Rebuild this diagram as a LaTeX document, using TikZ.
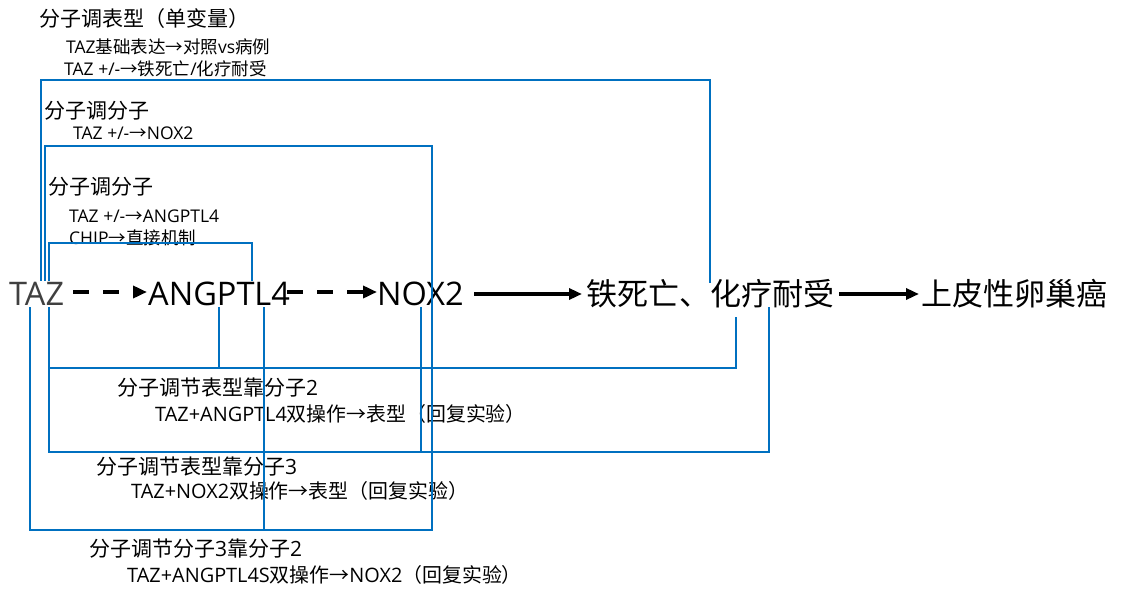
\documentclass[tikz,border=0pt]{standalone}
\usepackage{fontspec}
\setmainfont{Open Sans}
\newfontfamily\cjk{Noto Sans CJK SC}
\usetikzlibrary{arrows.meta}
\definecolor{conblue}{RGB}{0,112,192}
\definecolor{tazgray}{RGB}{64,64,64}
\begin{document}
\begin{tikzpicture}[x=1pt,y=-1pt,
  mainbox/.style={inner xsep=0pt, inner ysep=2pt, text height=22pt, text depth=0pt, anchor=base west, font=\fontsize{32.5}{36}\selectfont},
  cjkmain/.style={mainbox, font=\fontsize{31}{36}\selectfont\cjk},
  headlbl/.style={inner sep=0pt, anchor=base west, font=\fontsize{21}{24}\selectfont},
  sublbl/.style={inner sep=0pt, anchor=base west, font=\fontsize{17.5}{21}\selectfont},
  sublbll/.style={inner sep=0pt, anchor=base west, font=\fontsize{19.9}{23}\selectfont},
  conn/.style={draw=conblue, line width=1.2pt, line join=miter},
  dasharr/.style={line width=4pt, dash pattern=on 16pt off 14pt, -{Triangle[length=14pt,width=12pt]}},
  solidarr/.style={line width=3.5pt, -{Triangle[length=13pt,width=11pt]}}]
\useasboundingbox (0,0) rectangle (1121,589);

% main row
\node[mainbox, text=tazgray] (taz) at (9,305) {TAZ};
\node[mainbox] (ang) at (148,305) {ANGPTL4};
\node[mainbox] (nox) at (377,305) {NOX2};
\node[cjkmain] (tox) at (586,305) {铁死亡、化疗耐受};
\node[cjkmain] (eoc) at (921,305) {上皮性卵巢癌};

% arrow end x positions
\coordinate (a1s) at (73,0);  \coordinate (a1e) at (147,0);
\coordinate (a2s) at (287,0); \coordinate (a2e) at (377,0);
\coordinate (a3s) at (474,0); \coordinate (a3e) at (582,0);
\coordinate (a4s) at (839,0); \coordinate (a4e) at (919,0);

\draw[dasharr] ([yshift=2pt]taz.east -| a1s) -- ([yshift=2pt]ang.west -| a1e);
\draw[dasharr] ([yshift=2pt]ang.east -| a2s) -- ([yshift=2pt]nox.west -| a2e);
\draw[solidarr] (nox.east -| a3s) -- (tox.west -| a3e);
\draw[solidarr] (tox.east -| a4s) -- (eoc.west -| a4e);

% labels
\node[headlbl] (h1) at (39,27) {\cjk 分子调表型（单变量）};
\node[sublbl] (s1a) at (66,53) {TAZ{\cjk 基础表达→对照}vs{\cjk 病例}};
\node[sublbl] (s1b) at (64,75) {TAZ +/-{\cjk →铁死亡}/{\cjk 化疗耐受}};
\node[headlbl] (h2) at (44,118) {\cjk 分子调分子};
\node[sublbl] (s2) at (73,139) {TAZ +/-{\cjk →}NOX2};
\node[headlbl] (h3) at (48,194) {\cjk 分子调分子};
\node[sublbl] (s3a) at (69,222) {TAZ +/-{\cjk →}ANGPTL4};
\node[sublbl] (s3b) at (69,244) {CHIP{\cjk →直接机制}};
\node[headlbl] (h4) at (117,395) {{\cjk 分子调节表型靠分子}2};
\node[sublbll] (s4) at (155,421) {TAZ+ANGPTL4{\cjk 双操作→表型（回复实验）}};
\node[headlbl] (h5) at (96,474) {{\cjk 分子调节表型靠分子}3};
\node[sublbll] (s5) at (131,498) {TAZ+NOX2{\cjk 双操作→表型（回复实验）}};
\node[headlbl] (h6) at (89,556) {{\cjk 分子调节分子}3{\cjk 靠分子}2};
\node[sublbll] (s6) at (127,582) {TAZ+ANGPTL4S{\cjk 双操作→}NOX2{\cjk （回复实验）}};

% connector corner points
\coordinate (c1a) at (41,80);   \coordinate (c1b) at (710,80);
\coordinate (c2a) at (45,146);  \coordinate (c2b) at (432,146);
\coordinate (c3a) at (49,243);  \coordinate (c3b) at (252,243);
\coordinate (c4a) at (49,452);  \coordinate (c4b) at (769,452);
\coordinate (c5a) at (49,368);  \coordinate (c5b) at (736,368);
\coordinate (c5c) at (219,368);
\coordinate (c6) at (421,452);
\coordinate (c7) at (264,530);
\coordinate (c8a) at (30,530);  \coordinate (c8b) at (432,530);

\draw[conn] (taz.north -| c1a) -- (c1a) -- (c1b) -- ([yshift=-2pt]tox.north -| c1b);
\draw[conn] (taz.north -| c2a) -- (c2a) -- (c2b) -- (nox.center -| c2b);
\draw[conn] (taz.north -| c3a) -- (c3a) -- (c3b) -- (ang.north -| c3b);
\draw[conn] (taz.south -| c4a) -- (c4a) -- (c4b) -- (tox.south -| c4b);
\draw[conn] (taz.south -| c5a) -- (c5a) -- (c5b) -- ([yshift=-10pt]tox.south -| c5b);
\draw[conn] (ang.south -| c5c) -- (c5c);
\draw[conn] (nox.south -| c6) -- (c6);
\draw[conn] (ang.south -| c7) -- (c7);
\draw[conn] (taz.south -| c8a) -- (c8a) -- (c8b) -- (nox.center -| c8b);
\end{tikzpicture}
\end{document}
